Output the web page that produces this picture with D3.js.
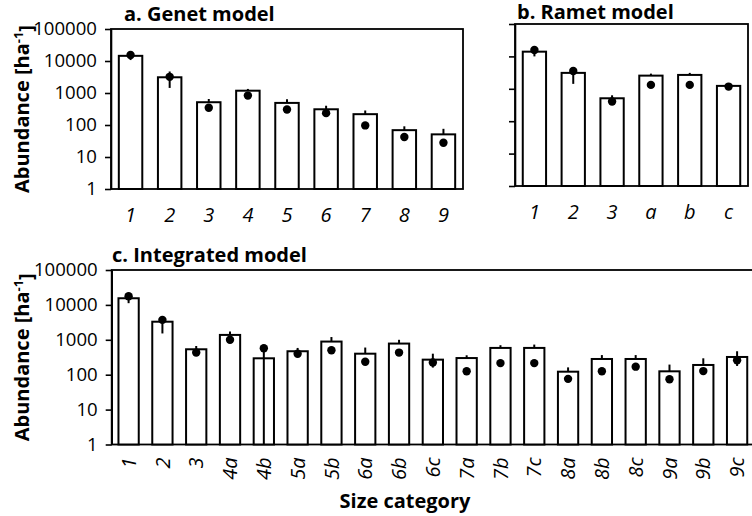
<!DOCTYPE html>
<html>
<head>
<meta charset="utf-8">
<script src="https://cdn.jsdelivr.net/npm/d3@7"></script>
<style>
body { margin:0; background:#fff; }
svg text { font-family:"Open Sans", sans-serif; fill:#000; }
.tick line, .domain { stroke:#000; stroke-width:1.6; }
</style>
</head>
<body>
<div id="chart"></div>
<script>
//abundance by size category - three panels, log scale

var yTicks = [1, 10, 100, 1000, 10000, 100000];

// a. genet model
var genetCats = ["1","2","3","4","5","6","7","8","9"];
var genetBars = [14500, 3100, 515, 1180, 490, 310, 218, 69, 51];
var genetDots = [15500, 3200, 345, 830, 305, 235, 97, 42, 28];
var genetLo = [10700, 1440, 515, 1180, 490, 310, 218, 69, 51];
var genetHi = [15500, 4700, 650, 1340, 640, 400, 284, 91, 76];

// b. ramet model
var rametCats = ["1","2","3","a","b","c"];
var rametBars = [14000, 3100, 510, 2550, 2680, 1230];
var rametDots = [15800, 3550, 405, 1320, 1320, 1170];
var rametLo = [10000, 1420, 510, 2550, 2680, 1230];
var rametHi = [15800, 3550, 630, 2940, 3100, 1230];

// c. integrated model
var intCats = ["1","2","3","4a","4b","5a","5b","6a","6b","6c","7a","7b","7c","8a","8b","8c","9a","9b","9c"];
var intBars = [15500, 3300, 535, 1380, 295, 470, 890, 400, 780, 270, 300, 585, 585, 122, 282, 282, 125, 190, 322];
var intDots = [17700, 3730, 430, 1000, 575, 400, 500, 235, 430, 225, 125, 215, 215, 76, 125, 170, 74, 127, 258];
var intLo = [11200, 1520, 535, 1380, 1, 470, 890, 400, 780, 160, 300, 585, 585, 122, 282, 282, 125, 190, 178];
var intHi = [17700, 3730, 665, 1730, 575, 585, 1200, 600, 1000, 400, 360, 700, 730, 162, 365, 365, 195, 295, 470];

var svg = d3.select("#chart")
    .append("svg")
    .attr("width", 752)
    .attr("height", 516);

function drawPanel(opt){
    var x = d3.scaleBand()
        .domain(opt.cats)
        .range([opt.left, opt.right])
        .paddingInner(0.4)
        .paddingOuter(0.2);
    var y = d3.scaleLog()
        .domain([1, 100000])
        .range([opt.bottom, opt.top]);

    var g = svg.append("g");

    //frame
    g.append("rect")
        .attr("x", opt.left)
        .attr("y", opt.top)
        .attr("width", opt.right - opt.left)
        .attr("height", opt.bottom - opt.top)
        .attr("fill", "none")
        .attr("stroke", "#000")
        .attr("stroke-width", 1.8);

    //y axis
    var yAxis = g.append("g")
        .attr("transform", "translate(" + opt.left + ",0)")
        .call(d3.axisLeft(y)
            .tickValues(yTicks)
            .tickSize(6)
            .tickSizeOuter(0)
            .tickPadding(8)
            .tickFormat(opt.labels ? d3.format("d") : ""));
    yAxis.selectAll(".tick text")
        .style("font-size", "18.6px");

    //x axis
    var xAxis = g.append("g")
        .attr("transform", "translate(0," + opt.bottom + ")")
        .call(d3.axisBottom(x).tickSize(0).tickPadding(19));
    xAxis.select(".domain").remove();
    xAxis.selectAll(".tick text")
        .style("font-size", "20px")
        .style("font-style", "italic");
    if(opt.rotate){
        xAxis.selectAll(".tick text")
            .attr("transform", "rotate(-90)")
            .attr("x", -13)
            .attr("y", 0)
            .attr("dy", "0.36em")
            .style("text-anchor", "end");
    }

    var rows = opt.cats.map(function(c, i){
        return {cat:c, bar:opt.bars[i], dot:opt.dots[i], lo:opt.lo[i], hi:opt.hi[i]};
    });

    //bars
    g.append("g")
        .selectAll("rect")
        .data(rows)
        .enter()
        .append("rect")
        .attr("x", d => x(d.cat))
        .attr("y", d => y(d.bar))
        .attr("width", x.bandwidth())
        .attr("height", d => opt.bottom - y(d.bar))
        .attr("fill", "#fff")
        .attr("stroke", "#000")
        .attr("stroke-width", 2);

    //error lines
    g.append("g")
        .selectAll("line")
        .data(rows)
        .enter()
        .append("line")
        .attr("x1", d => x(d.cat) + x.bandwidth()/2)
        .attr("x2", d => x(d.cat) + x.bandwidth()/2)
        .attr("y1", d => y(d.lo))
        .attr("y2", d => y(d.hi))
        .attr("stroke", "#000")
        .attr("stroke-width", 2);

    //model points
    g.append("g")
        .selectAll("circle")
        .data(rows)
        .enter()
        .append("circle")
        .attr("cx", d => x(d.cat) + x.bandwidth()/2)
        .attr("cy", d => y(d.dot))
        .attr("r", 4.2)
        .attr("fill", "#000");

    //panel title
    svg.append("text")
        .attr("x", opt.titleX)
        .attr("y", opt.titleY)
        .style("font-size", "20px")
        .style("font-weight", "bold")
        .text(opt.title);

    //y title
    if(opt.labels){
        var t = svg.append("text")
            .attr("transform", "translate(29," + ((opt.top + opt.bottom)/2) + ") rotate(-90)")
            .style("text-anchor", "middle")
            .style("font-size", "20px")
            .style("font-weight", "bold");
        t.append("tspan").text("Abundance [ha");
        t.append("tspan").attr("dy", "-0.5em").style("font-size", "13px").text("-1");
        t.append("tspan").attr("dy", "0.5em").text("]");
    }
}

drawPanel({cats:genetCats, bars:genetBars, dots:genetDots, lo:genetLo, hi:genetHi,
    left:111, right:463, top:29, bottom:189, labels:true, rotate:false,
    title:"a. Genet model", titleX:124, titleY:21});

drawPanel({cats:rametCats, bars:rametBars, dots:rametDots, lo:rametLo, hi:rametHi,
    left:515, right:748, top:24, bottom:186, labels:false, rotate:false,
    title:"b. Ramet model", titleX:517, titleY:19});

drawPanel({cats:intCats, bars:intBars, dots:intDots, lo:intLo, hi:intHi,
    left:111.7, right:754, top:270, bottom:444.5, labels:true, rotate:true,
    title:"c. Integrated model", titleX:112, titleY:262});

svg.append("text")
    .attr("x", 405)
    .attr("y", 508)
    .style("text-anchor", "middle")
    .style("font-size", "20px")
    .style("font-weight", "bold")
    .text("Size category");
</script>
</body>
</html>
